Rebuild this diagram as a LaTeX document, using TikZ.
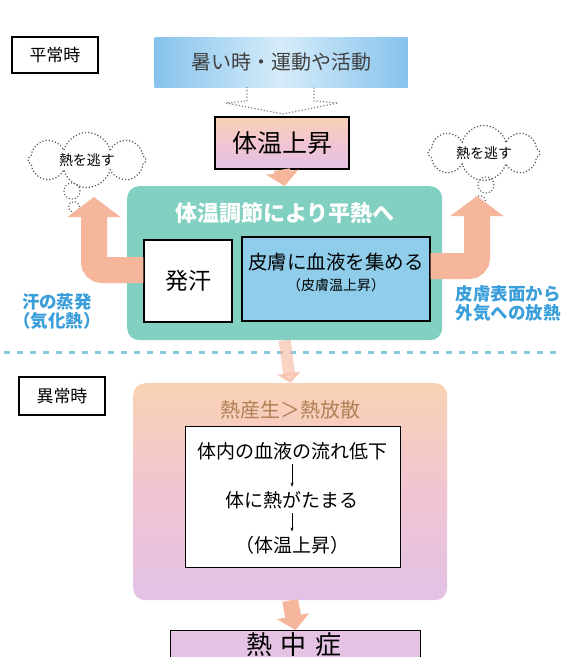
\documentclass[tikz,border=0pt]{standalone}
\usepackage{fontspec}
\setmainfont{Noto Sans CJK JP}
\usetikzlibrary{arrows.meta,shapes.symbols}
\definecolor{bluebox}{HTML}{86C3EC}
\definecolor{bluelight}{HTML}{D6ECFA}
\definecolor{peach}{HTML}{F9D2B4}
\definecolor{pinkm}{HTML}{F2C4D2}
\definecolor{lav}{HTML}{E2C2E6}
\definecolor{teal}{HTML}{82D0C2}
\definecolor{skinblue}{HTML}{8FCDEB}
\definecolor{salmon}{HTML}{F5B69C}
\definecolor{txtblue}{HTML}{3A9EDA}
\definecolor{brownt}{HTML}{B07F55}
\definecolor{dashc}{HTML}{86C9D8}
\begin{document}
\begin{tikzpicture}[x=1pt,y=-1pt,
  tag/.style={draw=black,line width=1.2pt,fill=white,font=\fontsize{17}{17}\selectfont,inner sep=0pt},
  bigarrow/.style={salmon,line width=26pt,rounded corners=8pt,-{Triangle[width=52pt,length=20pt]}},
  downarrow/.style={salmon,line width=16pt,-{Triangle[width=32pt,length=14pt]}},
  cloudy/.style={cloud,cloud puffs=8,aspect=2.3,draw=gray!70!black,dotted,line width=1.2pt,inner sep=0pt,font=\fontsize{14}{14}\selectfont},
  puff/.style={circle,draw=gray!70!black,dotted,line width=1.1pt,inner sep=0pt},
  smallarr/.style={-{Stealth[length=4pt,width=3pt]},line width=0.6pt,shorten <=1pt,shorten >=1pt},
  bluelabel/.style={txtblue,font=\fontsize{17.5}{19}\selectfont\bfseries,align=center}
]
\useasboundingbox (0,0) rectangle (567,657);
\clip (0,0) rectangle (567,657);
\fill[white] (0,0) rectangle (567,657);

% section tags
\node[tag,minimum width=86pt,minimum height=36pt] (normal) at (55,55) {平常時};
\node[tag,minimum width=86pt,minimum height=38pt] (abnormal) at (62,396) {異常時};

% top blue box
\node[left color=bluebox,right color=bluebox,middle color=bluelight,minimum width=253pt,minimum height=50pt,font=\fontsize{20}{20}\selectfont,text=black!75] (hot) at (281,62) {暑い時・運動や活動};

% dotted hollow arrow
\draw[gray,dotted,line width=1.2pt] (247,87) -- (247,101) -- (226,103) -- (283,114) -- (338,103) -- (314,101) -- (314,87);

% body temp rise
\node[draw=black,line width=1.2pt,top color=peach,bottom color=lav,middle color=pinkm,minimum width=134pt,minimum height=52pt,font=\fontsize{25}{25}\selectfont] (rise) at (282,143) {体温上昇};

% teal box
\node[fill=teal,rounded corners=12pt,minimum width=315pt,minimum height=154pt,anchor=north west,inner sep=0pt] (reg) at (127,186) {};
\node[white,font=\fontsize{22}{22}\selectfont\bfseries] (regtitle) at (285,213) {体温調節により平熱へ};
\draw[downarrow] (rise.south) -- (reg.north);

\node[draw=black,line width=1.2pt,fill=white,minimum width=88pt,minimum height=82pt,font=\fontsize{23}{23}\selectfont] (sweat) at (188,281) {発汗};
\node[draw=black,line width=1.2pt,fill=skinblue,minimum width=188pt,minimum height=84pt] (skin) at (336,279) {};
\node[font=\fontsize{19.5}{19.5}\selectfont] (skin1) at (336,262) {皮膚に血液を集める};
\node[font=\fontsize{14}{14}\selectfont] (skin2) at (336,285) {（皮膚温上昇）};

% clouds
\node[cloudy,minimum width=118pt,minimum height=48pt] (cl) at (87,160) {熱を逃す};
\node[puff,minimum size=16pt] (clp1) at (72,191) {};
\node[puff,minimum size=11pt] (clp2) at (74,207) {};
\node[cloudy,minimum width=112pt,minimum height=46pt] (cr) at (484,153) {熱を逃す};
\node[puff,minimum size=16pt] (crp1) at (486,185) {};
\node[puff,minimum size=11pt] (crp2) at (480,201) {};

% big arrows
\coordinate (la) at (94,197);
\coordinate (ra) at (477,196);
\draw[bigarrow] (sweat.west |- 0,270) -- (94,270) -- (la);
\draw[bigarrow] (skin.east |- 0,266) -- (477,266) -- (ra);

% blue labels
\node[bluelabel] (evap) at (57,312) {汗の蒸発\\（気化熱）};
\node[bluelabel] (rad) at (508,304) {皮膚表面から\\外気への放熱};

% dashed separator
\draw[dashc,line width=3pt,dash pattern=on 6pt off 7pt] (4,352) -- (563,352);

% pink box
\node[top color=peach,bottom color=lav,middle color=pinkm,rounded corners=12pt,minimum width=314pt,minimum height=217pt,anchor=north west,inner sep=0pt] (abn) at (133,383) {};
\node[brownt,font=\fontsize{20}{20}\selectfont] (abntitle) at (290,410) {熱産生＞熱放散};
\draw[salmon,line width=12pt,opacity=0.6,-{Triangle[width=24pt,length=10pt]}] (reg.south) -- (abn.north);

\node[draw=black,line width=1.2pt,fill=white,minimum width=215pt,minimum height=141pt,anchor=north west,inner sep=0pt] (inner) at (185,426) {};
\node[font=\fontsize{19}{19}\selectfont] (l1) at (292,451) {体内の血液の流れ低下};
\node[font=\fontsize{19}{19}\selectfont] (l2) at (292,500) {体に熱がたまる};
\node[font=\fontsize{19}{19}\selectfont] (l3) at (292,545) {（体温上昇）};
\draw[smallarr] (l1.south) -- (l2.north);
\draw[smallarr] (l2.south) -- (l3.north);

% heatstroke
\node[draw=black,line width=1.2pt,top color=lav!80!pinkm,bottom color=lav,minimum width=250pt,minimum height=40pt,anchor=north west,inner sep=0pt] (hs) at (170,630) {};
\node[font=\fontsize{26}{26}\selectfont] (hstext) at (294,645) {熱\hbox to 9pt{}中\hbox to 9pt{}症};
\draw[downarrow] (abn.south) -- (hs.north);
\end{tikzpicture}
\end{document}
